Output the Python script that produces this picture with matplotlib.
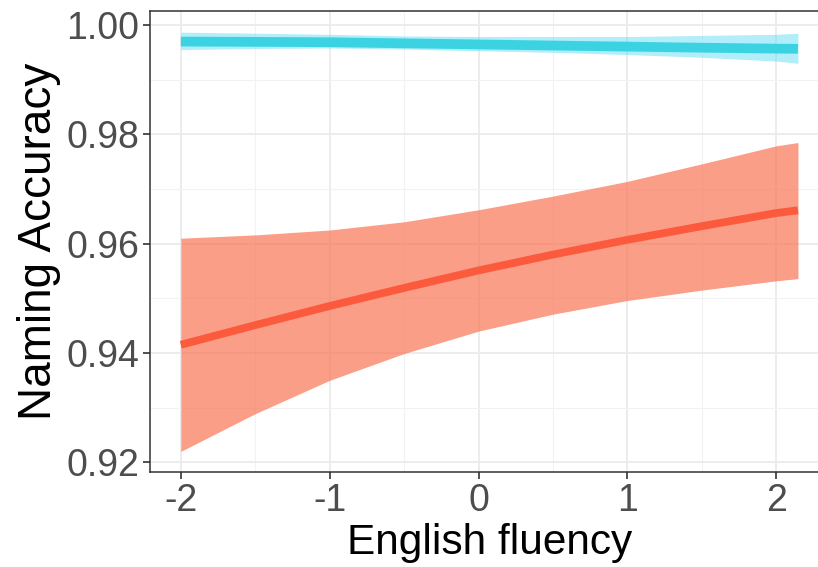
import matplotlib
matplotlib.use("Agg")
import matplotlib.pyplot as plt
from matplotlib.ticker import MultipleLocator, FixedLocator

plt.rcParams['font.family'] = ['Liberation Sans', 'DejaVu Sans']

# Data
fluency = [-2.0, -1.5, -1.0, -0.5, 0.0, 0.5, 1.0, 1.5, 2.0, 2.146]

red_fit = [0.9415, 0.9451, 0.9486, 0.9519, 0.9551, 0.9580, 0.9607, 0.9632, 0.9656, 0.9661]
red_hi  = [0.9610, 0.9616, 0.9625, 0.9640, 0.9662, 0.9687, 0.9714, 0.9746, 0.9779, 0.9785]
red_lo  = [0.9220, 0.9289, 0.9350, 0.9399, 0.9440, 0.9471, 0.9496, 0.9515, 0.9532, 0.9536]

cyan_fit = [0.99697, 0.99692, 0.99685, 0.99665, 0.99645, 0.99625, 0.99605, 0.99585, 0.99568, 0.99565]
cyan_hi  = [0.9987, 0.9985, 0.9983, 0.9980, 0.9979, 0.9979, 0.9979, 0.9981, 0.9983, 0.9985]
cyan_lo  = [0.9955, 0.9957, 0.9958, 0.9956, 0.9953, 0.9950, 0.9946, 0.9941, 0.9934, 0.9930]

y_ticks = [0.92, 0.94, 0.96, 0.98, 1.00]
y_ticklabels = ["0.92", "0.94", "0.96", "0.98", "1.00"]
x_ticks = [-2, -1, 0, 1, 2]
x_ticklabels = ["-2", "-1", "0", "1", "2"]

fig = plt.figure(figsize=(8.18, 5.67), dpi=100)
ax = fig.add_axes([150/818, 1-472.3/567, (828.8-150)/818, (472.3-10.7)/567])

ax.fill_between(fluency, red_lo, red_hi, color='#FA7050', alpha=0.68, linewidth=0, zorder=2)
ax.fill_between(fluency, cyan_lo, cyan_hi, color='#56D9F5', alpha=0.45, linewidth=0, zorder=2)
ax.plot(fluency, red_fit, color='#FC5A3D', linewidth=5.6, solid_capstyle='butt', zorder=3)
ax.plot(fluency, cyan_fit, color='#3BD3E2', linewidth=7.0, solid_capstyle='butt', zorder=3)

ax.set_xlim(-2.2073, 2.3533)
ax.set_ylim(0.91817, 1.00262)

ax.yaxis.set_major_locator(FixedLocator(y_ticks))
ax.set_yticklabels(y_ticklabels)
ax.xaxis.set_major_locator(FixedLocator(x_ticks))
ax.set_xticklabels(x_ticklabels)
ax.yaxis.set_minor_locator(MultipleLocator(0.01))
ax.xaxis.set_minor_locator(MultipleLocator(0.5))

ax.grid(which='major', color='#EBEBEB', linewidth=1.3, zorder=0)
ax.grid(which='minor', color='#F2F2F2', linewidth=0.8, zorder=0)
ax.set_axisbelow(True)

for s in ax.spines.values():
    s.set_color('#333333')
    s.set_linewidth(1.1)

ax.tick_params(axis='both', which='major', length=5, width=1.2, color='#333333',
               labelsize=27, labelcolor='#4D4D4D', pad=2.5)
ax.tick_params(axis='both', which='minor', length=0)

ax.set_xlabel("English fluency", fontsize=30.5, color='black', labelpad=3)
ax.set_ylabel("Naming Accuracy", fontsize=33, color='black', labelpad=4)

fig.savefig("out.png", dpi=100)
